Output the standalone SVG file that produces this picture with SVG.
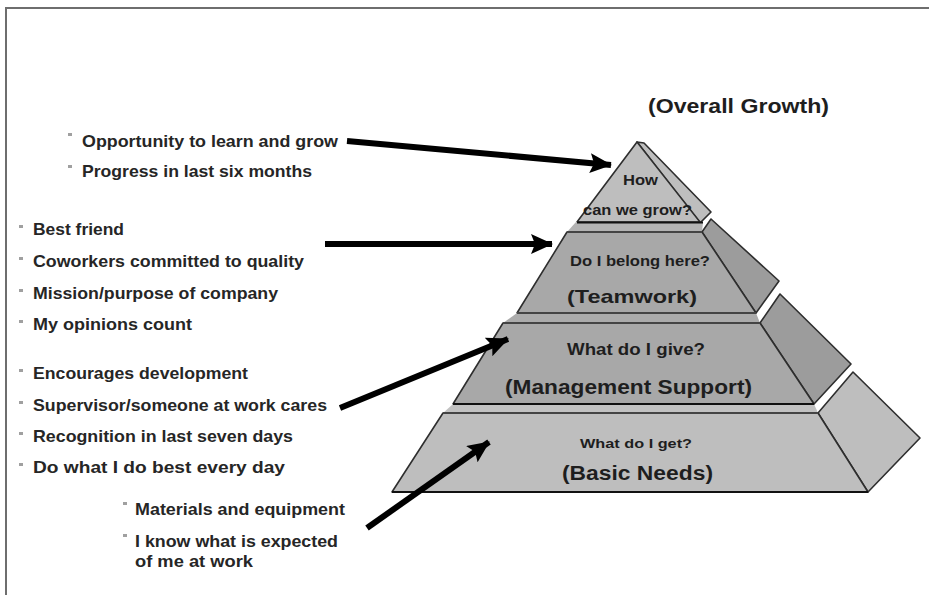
<svg xmlns="http://www.w3.org/2000/svg" width="929" height="595" viewBox="0 0 929 595">
  <defs>
    <style>
      .frame { stroke: #6e6e6e; stroke-width: 2; fill: none; }
      .face { stroke: #2e2e2e; stroke-width: 1.6; stroke-linejoin: round; }
      .light { fill: #bebebe; }
      .mid { fill: #a8a8a8; }
      .side { fill: #9c9c9c; }
      .base { stroke: #111; stroke-width: 2.2; }
      .rim { stroke: #444; stroke-width: 2; }
      .item { font-family: "Liberation Sans", Arial, sans-serif; font-weight: bold; font-size: 16.5px; fill: #262626; }
      .q { font-family: "Liberation Sans", Arial, sans-serif; font-weight: bold; fill: #1e1e1e; text-anchor: start; }
      .dot { fill: #a0a0a0; }
      .arrow { stroke: #000; stroke-width: 6; fill: none; marker-end: url(#head); }
    </style>
    <marker id="head" viewBox="0 0 22 20" refX="21" refY="10" markerWidth="22" markerHeight="20" markerUnits="userSpaceOnUse" orient="auto">
      <path d="M0,0 L22,10 L0,20 L4,10 Z" fill="#000"/>
    </marker>
  </defs>

  <!-- page frame -->
  <path class="frame" d="M6,595 V8 H929"/>

  <!-- top tier: Overall Growth -->
  <g id="tier-growth">
    <polygon class="face light" points="637,142 644,143 711,212 700,223"/>
    <polygon class="face light" points="637,142 700,222 577,222"/>
    <text class="q" x="623" y="185" font-size="14" textLength="35" lengthAdjust="spacingAndGlyphs">How</text>
    <text class="q" x="583" y="215" font-size="14" textLength="109" lengthAdjust="spacingAndGlyphs">can we grow?</text>
  </g>
  <text id="label-overall" class="q" x="648" y="113" font-size="20" textLength="181" lengthAdjust="spacingAndGlyphs">(Overall Growth)</text>

  <!-- second tier: Teamwork -->
  <g id="tier-teamwork">
    <polygon points="576,222 703,222 702,232 567,232" fill="#b3b3b3"/>
    <line class="base" x1="577" y1="222.5" x2="703" y2="222.5"/>
    <polygon class="face side" points="702,232 711,219 779,281 756,313"/>
    <polygon class="face mid" points="567,232 702,232 756,313 517,313"/>
    <line class="rim" x1="567" y1="232" x2="702" y2="232"/>
    <text class="q" x="570" y="266" font-size="14.5" textLength="140" lengthAdjust="spacingAndGlyphs">Do I belong here?</text>
    <text class="q" x="567" y="303" font-size="19" textLength="130" lengthAdjust="spacingAndGlyphs">(Teamwork)</text>
  </g>

  <!-- third tier: Management Support -->
  <g id="tier-management">
    <polygon points="517,313 756,313 760,323 503,323" fill="#ababab"/>
    <line class="rim" x1="517" y1="313" x2="756" y2="313"/>
    <polygon class="face side" points="760,323 780,294 851,364 814,404"/>
    <polygon class="face mid" points="503,323 760,323 814,404 453,404"/>
    <line class="rim" x1="503" y1="323" x2="760" y2="323"/>
    <text class="q" x="567" y="355" font-size="16" textLength="138" lengthAdjust="spacingAndGlyphs">What do I give?</text>
    <text class="q" x="505" y="394" font-size="20" textLength="247" lengthAdjust="spacingAndGlyphs">(Management Support)</text>
  </g>

  <!-- bottom tier: Basic Needs -->
  <g id="tier-basic">
    <polygon points="453,404 814,404 818,413 443,413" fill="#c2c2c2"/>
    <line class="base" x1="453" y1="404" x2="814" y2="404"/>
    <polygon class="face light" points="818,413 853,372 920,438 868,492"/>
    <polygon class="face light" points="443,413 818,413 868,492 392,492"/>
    <line class="rim" x1="443" y1="413" x2="818" y2="413"/>
    <line class="base" x1="392" y1="492" x2="868" y2="492"/>
    <text class="q" x="580" y="448" font-size="13.5" textLength="112" lengthAdjust="spacingAndGlyphs">What do I get?</text>
    <text class="q" x="562" y="480" font-size="20" textLength="151" lengthAdjust="spacingAndGlyphs">(Basic Needs)</text>
  </g>

  <!-- survey items -->
  <g id="items-growth">
    <rect class="dot" x="68" y="133" width="4" height="3"/>
    <text class="item" x="82" y="147" textLength="256" lengthAdjust="spacingAndGlyphs">Opportunity to learn and grow</text>
    <rect class="dot" x="68" y="165" width="4" height="3"/>
    <text class="item" x="82" y="177" textLength="230" lengthAdjust="spacingAndGlyphs">Progress in last six months</text>
  </g>
  <g id="items-teamwork">
    <rect class="dot" x="19" y="225" width="4" height="3"/>
    <text class="item" x="33" y="235" textLength="91" lengthAdjust="spacingAndGlyphs">Best friend</text>
    <rect class="dot" x="19" y="257" width="4" height="3"/>
    <text class="item" x="33" y="267" textLength="271" lengthAdjust="spacingAndGlyphs">Coworkers committed to quality</text>
    <rect class="dot" x="19" y="289" width="4" height="3"/>
    <text class="item" x="33" y="299" textLength="245" lengthAdjust="spacingAndGlyphs">Mission/purpose of company</text>
    <rect class="dot" x="19" y="320" width="4" height="3"/>
    <text class="item" x="33" y="330" textLength="159" lengthAdjust="spacingAndGlyphs">My opinions count</text>
  </g>
  <g id="items-management">
    <rect class="dot" x="19" y="369" width="4" height="3"/>
    <text class="item" x="33" y="379" textLength="215" lengthAdjust="spacingAndGlyphs">Encourages development</text>
    <rect class="dot" x="19" y="401" width="4" height="3"/>
    <text class="item" x="33" y="411" textLength="294" lengthAdjust="spacingAndGlyphs">Supervisor/someone at work cares</text>
    <rect class="dot" x="19" y="432" width="4" height="3"/>
    <text class="item" x="33" y="442" textLength="260" lengthAdjust="spacingAndGlyphs">Recognition in last seven days</text>
    <rect class="dot" x="19" y="463" width="4" height="3"/>
    <text class="item" x="33" y="473" textLength="252" lengthAdjust="spacingAndGlyphs">Do what I do best every day</text>
  </g>
  <g id="items-basic">
    <rect class="dot" x="123" y="502" width="4" height="3"/>
    <text class="item" x="135" y="515" textLength="210" lengthAdjust="spacingAndGlyphs">Materials and equipment</text>
    <rect class="dot" x="123" y="534" width="4" height="3"/>
    <text class="item" x="135" y="547" textLength="203" lengthAdjust="spacingAndGlyphs">I know what is expected</text>
    <text class="item" x="135" y="567" textLength="118" lengthAdjust="spacingAndGlyphs">of me at work</text>
  </g>

  <!-- connectors -->
  <g id="connectors">
    <line class="arrow" x1="347" y1="141" x2="611" y2="165"/>
    <line class="arrow" x1="325" y1="244" x2="552" y2="244"/>
    <line class="arrow" x1="340" y1="408" x2="508" y2="339"/>
    <line class="arrow" x1="367" y1="528" x2="489" y2="442"/>
  </g>
</svg>
